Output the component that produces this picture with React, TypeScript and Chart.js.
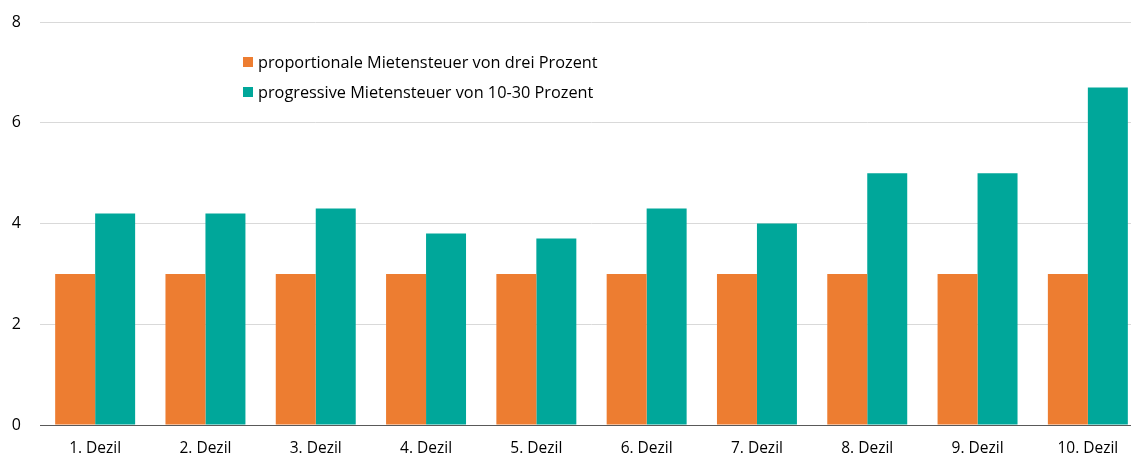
import React, { useEffect, useRef } from "react";
import { Chart, registerables } from "chart.js";

Chart.register(...registerables);

const categories = ["1. Dezil", "2. Dezil", "3. Dezil", "4. Dezil", "5. Dezil", "6. Dezil", "7. Dezil", "8. Dezil", "9. Dezil", "10. Dezil"];
const proportional = [3, 3, 3, 3, 3, 3, 3, 3, 3, 3];
const progressive = [4.2, 4.2, 4.3, 3.8, 3.7, 4.3, 4.0, 5.0, 5.0, 6.7];
const seriesLabels = ["proportionale Mietensteuer von drei Prozent", "progressive Mietensteuer von 10-30 Prozent"];
const yTicks = [0, 2, 4, 6, 8];

const FONT = "'Open Sans', sans-serif";

const insideLegend = {
  id: "insideLegend",
  afterDraw(chart: any) {
    const ctx = chart.ctx;
    ctx.save();
    ctx.font = `16.3px ${FONT}`;
    ctx.textBaseline = "middle";
    ctx.textAlign = "left";
    chart.data.datasets.forEach((ds: any, i: number) => {
      const y = 62 + i * 30;
      ctx.fillStyle = ds.backgroundColor;
      ctx.fillRect(243, y - 5, 10, 10);
      ctx.fillStyle = "#000";
      ctx.fillText(ds.label, 258, y + 1);
    });
    ctx.restore();
  },
};

export default function App() {
  const ref = useRef<HTMLCanvasElement>(null);
  useEffect(() => {
    if (!ref.current) return;
    const chart = new Chart(ref.current, {
      type: "bar",
      data: {
        labels: categories,
        datasets: [
          { label: seriesLabels[0], data: proportional, backgroundColor: "#ED7D31", categoryPercentage: 0.725, barPercentage: 1 },
          { label: seriesLabels[1], data: progressive, backgroundColor: "#00A79A", categoryPercentage: 0.725, barPercentage: 1 },
        ],
      },
      options: {
        animation: false,
        responsive: false,
        maintainAspectRatio: false,
        layout: { padding: { top: 22, left: 0, right: 0, bottom: 0 } },
        plugins: { legend: { display: false }, tooltip: { enabled: false } },
        scales: {
          x: {
            grid: { display: false },
            border: { display: true, color: "#595959", width: 1 },
            ticks: { color: "#000", font: { family: FONT, size: 15.5 }, padding: 6 },
            afterFit(scale: any) { scale.height = 31; scale.paddingLeft = 0; scale.paddingRight = 0; },
          },
          y: {
            min: 0,
            max: 8,
            afterBuildTicks(scale: any) { scale.ticks = yTicks.map((v) => ({ value: v })); },
            grid: { color: "#D9D9D9", lineWidth: 1, drawTicks: false },
            border: { display: false },
            ticks: { color: "#000", font: { family: FONT, size: 16 }, padding: 19 },
            afterFit(scale: any) { scale.width = 40; scale.paddingTop = 0; scale.paddingBottom = 0; },
          },
        },
      },
      plugins: [insideLegend],
    });
    return () => chart.destroy();
  }, []);
  return (
    <div style={{ position: "fixed", left: 0, top: 0, width: 1143, height: 456, background: "#fff" }}>
      <canvas ref={ref} width={1143} height={456} style={{ display: "block" }} />
    </div>
  );
}
